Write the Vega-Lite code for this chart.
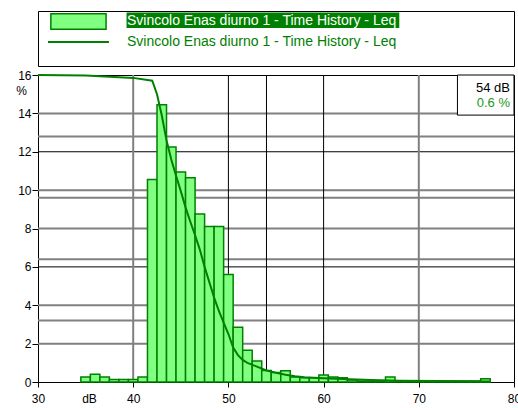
{
  "$schema": "https://vega.github.io/schema/vega-lite/v6.json",
  "background": "white",
  "padding": {"left": 15, "top": 10, "right": 0, "bottom": 0},
  "spacing": 1,
  "config": {
    "font": "Liberation Sans",
    "view": {"stroke": "black", "strokeWidth": 1},
    "axis": {
      "labelFont": "Liberation Sans",
      "labelFontSize": 12,
      "labelColor": "black",
      "labelOverlap": false,
      "titleFont": "Liberation Sans",
      "titleFontSize": 12,
      "titleFontWeight": "normal",
      "titleColor": "black",
      "tickColor": "black",
      "domainColor": "black",
      "grid": false
    },
    "axisX": {
      "tickCount": 5,
      "titleAnchor": "start", "titleX": 51, "titleY": 16,
      "titleBaseline": "middle", "titleAlign": "center",
      "tickSize": 5, "labelPadding": 6, "labelFlush": false
    },
    "axisY": {
      "tickCount": 8,
      "titleFontSize": 12, "titleAngle": 0, "titleX": -17, "titleY": 15,
      "titleAlign": "center", "titleBaseline": "middle",
      "tickSize": 6, "labelPadding": 1
    }
  },
  "datasets": {
    "legend": [
      {"entry": "bar", "label": "Svincolo Enas diurno 1 - Time History - Leq"},
      {"entry": "line", "label": "Svincolo Enas diurno 1 - Time History - Leq"}
    ],
    "histogram": [
      {"db": 35, "pct": 0.26}, {"db": 36, "pct": 0.4}, {"db": 37, "pct": 0.26},
      {"db": 38, "pct": 0.13}, {"db": 39, "pct": 0.13}, {"db": 40, "pct": 0.13},
      {"db": 41, "pct": 0.26}, {"db": 42, "pct": 10.55}, {"db": 43, "pct": 14.45},
      {"db": 44, "pct": 12.25}, {"db": 45, "pct": 10.95}, {"db": 46, "pct": 10.65},
      {"db": 47, "pct": 8.75}, {"db": 48, "pct": 8.1}, {"db": 49, "pct": 8.1},
      {"db": 50, "pct": 5.6}, {"db": 51, "pct": 2.85}, {"db": 52, "pct": 1.65},
      {"db": 53, "pct": 1.1}, {"db": 54, "pct": 0.6}, {"db": 55, "pct": 0.5},
      {"db": 56, "pct": 0.58}, {"db": 57, "pct": 0.26}, {"db": 58, "pct": 0.22},
      {"db": 59, "pct": 0.22}, {"db": 60, "pct": 0.37}, {"db": 61, "pct": 0.26},
      {"db": 62, "pct": 0.22}, {"db": 63, "pct": 0.1}, {"db": 64, "pct": 0.05},
      {"db": 65, "pct": 0.05}, {"db": 66, "pct": 0.05}, {"db": 67, "pct": 0.26},
      {"db": 68, "pct": 0.05}, {"db": 69, "pct": 0.05}, {"db": 70, "pct": 0.05},
      {"db": 71, "pct": 0.05}, {"db": 72, "pct": 0.05}, {"db": 73, "pct": 0.05},
      {"db": 74, "pct": 0.05}, {"db": 75, "pct": 0.05}, {"db": 76, "pct": 0.05},
      {"db": 77, "pct": 0.17}
    ],
    "cumulative": [
      {"db": 30, "pct": 16.0}, {"db": 35, "pct": 15.97}, {"db": 40, "pct": 15.85},
      {"db": 42, "pct": 15.7}, {"db": 42.5, "pct": 15.0}, {"db": 43, "pct": 13.9},
      {"db": 43.5, "pct": 12.6}, {"db": 44, "pct": 11.6}, {"db": 44.5, "pct": 10.75},
      {"db": 45, "pct": 9.95}, {"db": 45.5, "pct": 9.1}, {"db": 46, "pct": 8.35},
      {"db": 46.5, "pct": 7.65}, {"db": 47, "pct": 6.9}, {"db": 47.5, "pct": 6.0},
      {"db": 48, "pct": 5.2}, {"db": 48.5, "pct": 4.4}, {"db": 49, "pct": 3.7},
      {"db": 49.5, "pct": 3.1}, {"db": 50, "pct": 2.5}, {"db": 50.5, "pct": 1.8},
      {"db": 51, "pct": 1.4}, {"db": 51.5, "pct": 1.15}, {"db": 52, "pct": 1.0},
      {"db": 53, "pct": 0.8}, {"db": 54, "pct": 0.6}, {"db": 55, "pct": 0.48},
      {"db": 56, "pct": 0.38}, {"db": 57, "pct": 0.3}, {"db": 58, "pct": 0.25},
      {"db": 60, "pct": 0.2}, {"db": 62, "pct": 0.15}, {"db": 65, "pct": 0.1},
      {"db": 68, "pct": 0.07}, {"db": 72, "pct": 0.05}, {"db": 77.5, "pct": 0.03}
    ],
    "gridH": [
      {"v": 2, "tone": "grey"}, {"v": 3.2, "tone": "grey"}, {"v": 4, "tone": "grey"},
      {"v": 6, "tone": "black"}, {"v": 6.4, "tone": "grey"}, {"v": 8, "tone": "grey"},
      {"v": 9.6, "tone": "grey"}, {"v": 10, "tone": "grey"}, {"v": 12, "tone": "black"},
      {"v": 12.8, "tone": "grey"}, {"v": 14, "tone": "grey"}
    ],
    "gridV": [
      {"v": 40, "tone": "grey"}, {"v": 50, "tone": "black"}, {"v": 54, "tone": "black"},
      {"v": 60, "tone": "black"}, {"v": 70, "tone": "grey"}
    ],
    "cursor": [{"db": 54, "pct": 0.6}]
  },
  "vconcat": [
    {
      "width": 476,
      "height": 55,
      "data": {"name": "legend"},
      "layer": [
        {
          "transform": [{"filter": "datum.entry == 'bar'"}],
          "mark": {"type": "rect", "fill": "#80FF80", "stroke": "#008000", "strokeWidth": 1.5},
          "encoding": {
            "x": {"datum": 2.7, "type": "quantitative", "scale": {"domain": [0, 100]}, "axis": null},
            "x2": {"datum": 14.3},
            "y": {"datum": 2.8, "type": "quantitative", "scale": {"domain": [55, 0], "nice": false, "zero": false}, "axis": null},
            "y2": {"datum": 18.2}
          }
        },
        {
          "transform": [{"filter": "datum.entry == 'bar'"}],
          "mark": {"type": "rect", "fill": "#008000"},
          "encoding": {
            "x": {"datum": 18.6, "type": "quantitative"},
            "x2": {"datum": 75.9},
            "y": {"datum": 1.6, "type": "quantitative"},
            "y2": {"datum": 17.0}
          }
        },
        {
          "transform": [{"filter": "datum.entry == 'line'"}],
          "mark": {"type": "rule", "stroke": "#008000", "strokeWidth": 2},
          "encoding": {
            "x": {"datum": 2.1, "type": "quantitative"},
            "x2": {"datum": 14.9},
            "y": {"datum": 31, "type": "quantitative"}
          }
        },
        {
          "transform": [{"filter": "datum.entry == 'bar'"}],
          "mark": {"type": "text", "align": "left", "baseline": "middle", "fontSize": 14, "fill": "white"},
          "encoding": {
            "x": {"datum": 18.7, "type": "quantitative"},
            "y": {"datum": 9.6, "type": "quantitative"},
            "text": {"field": "label"}
          }
        },
        {
          "transform": [{"filter": "datum.entry == 'line'"}],
          "mark": {"type": "text", "align": "left", "baseline": "middle", "fontSize": 14, "fill": "#008000"},
          "encoding": {
            "x": {"datum": 18.7, "type": "quantitative"},
            "y": {"datum": 30.8, "type": "quantitative"},
            "text": {"field": "label"}
          }
        }
      ]
    },
    {
      "width": 476,
      "height": 307,
      "layer": [
        {
          "data": {"name": "gridH"},
          "mark": {"type": "rule"},
          "encoding": {
            "y": {"field": "v", "type": "quantitative", "title": "%", "scale": {"domain": [0, 16], "nice": false}},
            "color": {"field": "tone", "type": "nominal", "scale": {"domain": ["grey", "black"], "range": ["#808080", "#000000"]}, "legend": null},
            "strokeWidth": {"field": "tone", "type": "nominal", "scale": {"domain": ["grey", "black"], "range": [2, 1]}, "legend": null}
          }
        },
        {
          "data": {"name": "gridV"},
          "mark": {"type": "rule"},
          "encoding": {
            "x": {"field": "v", "type": "quantitative", "title": "dB", "scale": {"domain": [30, 80], "nice": false, "zero": false}},
            "color": {"field": "tone", "type": "nominal", "legend": null},
            "strokeWidth": {"field": "tone", "type": "nominal", "legend": null}
          }
        },
        {
          "data": {"name": "histogram"},
          "transform": [
            {"calculate": "datum.db - 0.5", "as": "lo"},
            {"calculate": "datum.db + 0.5", "as": "hi"}
          ],
          "mark": {"type": "rect", "fill": "#80FF80", "stroke": "#008000", "strokeWidth": 1.5},
          "encoding": {
            "x": {"field": "lo", "type": "quantitative", "title": "dB"},
            "x2": {"field": "hi"},
            "y": {"field": "pct", "type": "quantitative", "title": "%"},
            "y2": {"datum": 0}
          }
        },
        {
          "data": {"name": "cumulative"},
          "mark": {"type": "line", "stroke": "#008000", "strokeWidth": 2},
          "encoding": {
            "x": {"field": "db", "type": "quantitative", "title": "dB"},
            "y": {"field": "pct", "type": "quantitative", "title": "%"}
          }
        },
        {
          "data": {"name": "cursor"},
          "mark": {"type": "rect", "fill": "white", "stroke": "black", "strokeWidth": 1},
          "encoding": {
            "x": {"datum": 74.06, "type": "quantitative", "title": "dB"},
            "x2": {"datum": 80},
            "y": {"datum": 13.91, "type": "quantitative", "title": "%"},
            "y2": {"datum": 16}
          }
        },
        {
          "data": {"name": "cursor"},
          "transform": [{"calculate": "datum.db + ' dB'", "as": "label"}],
          "mark": {"type": "text", "align": "right", "baseline": "middle", "fontSize": 13, "fill": "black", "dx": -4},
          "encoding": {
            "x": {"datum": 80, "type": "quantitative", "title": "dB"},
            "y": {"datum": 15.3, "type": "quantitative", "title": "%"},
            "text": {"field": "label"}
          }
        },
        {
          "data": {"name": "cursor"},
          "transform": [{"calculate": "datum.pct + ' %'", "as": "label"}],
          "mark": {"type": "text", "align": "right", "baseline": "middle", "fontSize": 13, "fill": "#1E961E", "dx": -4},
          "encoding": {
            "x": {"datum": 80, "type": "quantitative", "title": "dB"},
            "y": {"datum": 14.52, "type": "quantitative", "title": "%"},
            "text": {"field": "label"}
          }
        }
      ]
    }
  ]
}
